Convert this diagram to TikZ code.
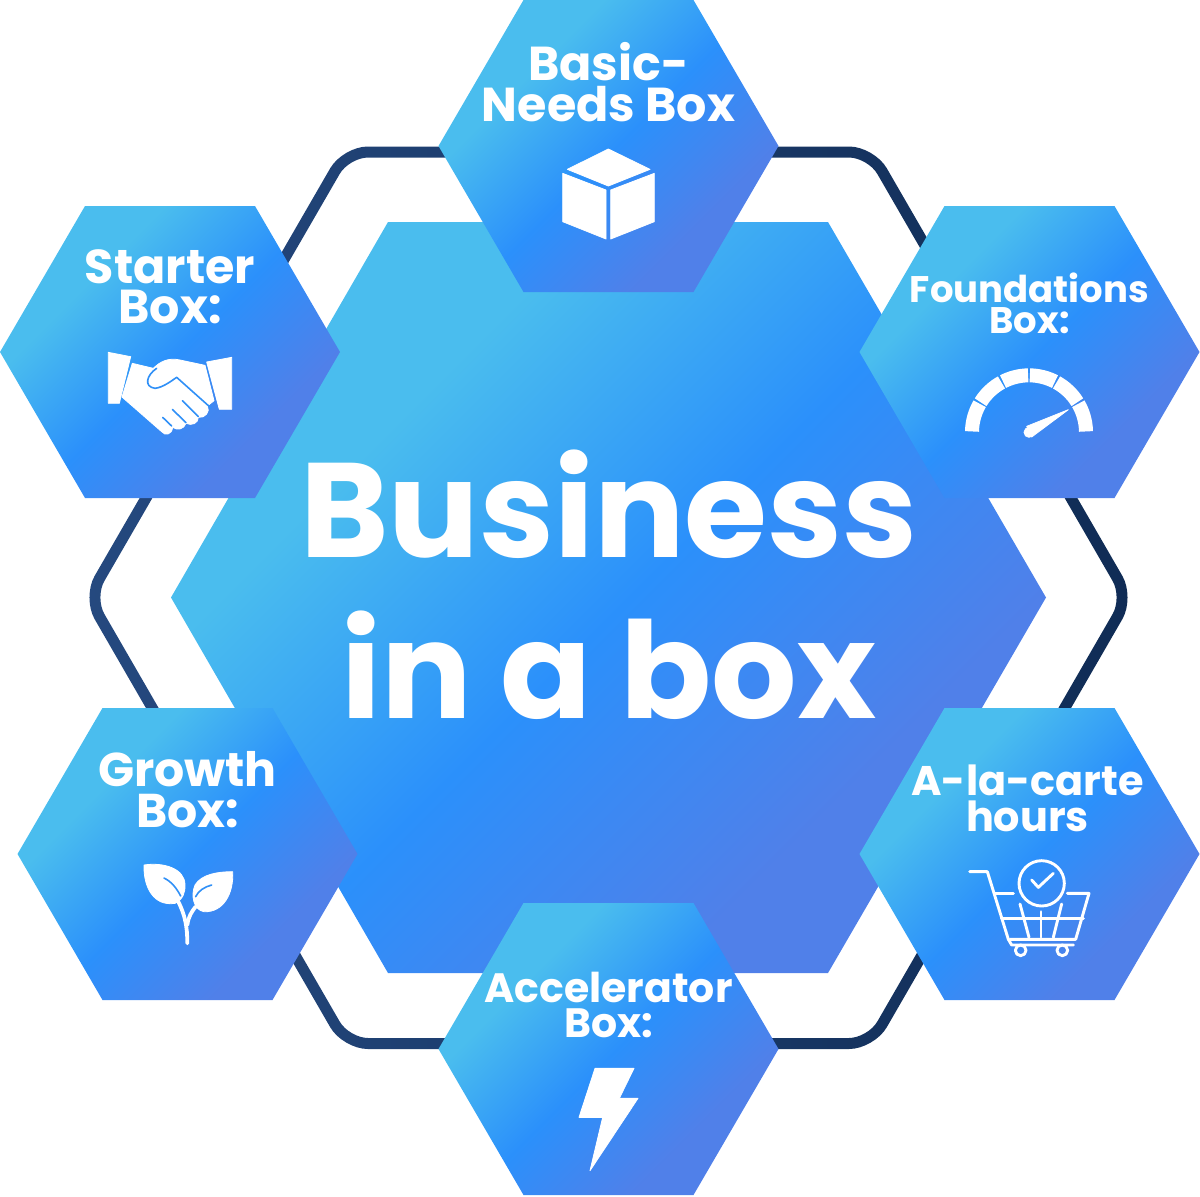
\documentclass[tikz,border=0pt]{standalone}
\usepackage{fontspec}
\newfontfamily\pop{Poppins Bold}
\definecolor{hexA}{HTML}{4ABDEE}
\definecolor{hexB}{HTML}{2B90FB}
\definecolor{hexC}{HTML}{5080E9}
\definecolor{ringL}{HTML}{25497F}
\definecolor{ringR}{HTML}{102C55}
\definecolor{gapblue}{HTML}{3090F7}
\pgfdeclareverticalshading{hexgrad}{100bp}{color(0bp)=(hexC); color(31bp)=(hexC); color(49bp)=(hexB); color(67bp)=(hexA); color(100bp)=(hexA)}
\tikzset{
  x=0.5pt,y=-0.5pt,
  hexfill/.style={shading=hexgrad,shading angle=45},
  hexlabel/.style={text=white,align=center,inner sep=0pt,font=\pop},
  iconfill/.style={fill=white,draw=white,line width=0.4pt,line join=round},
  iconline/.style={draw=white,line width=1.45pt,line join=round,line cap=round},
  gapline/.style={draw=gapblue,line width=0.8pt,line cap=round,line join=round},
  icongrid/.style={shift={#1},scale=1/3}
}
\newcommand{\smallhex}{\shade[hexfill] (-170,0) -- (-85,-146) -- (85,-146) -- (170,0) -- (85,146) -- (-85,146) -- cycle;}
\begin{document}
\begin{tikzpicture}
\useasboundingbox (0,0) rectangle (1200,1196);
% ring
\shade[even odd rule,left color=ringL,right color=ringR]
 [rounded corners=12.5pt] (608,146.5) -- (874.2,146.5) -- (1134.85,597.5) -- (874.2,1049) -- (342.8,1049) -- (82.15,597.5) -- (342.8,146.5) -- cycle
 [rounded corners=9.5pt] (608,157.5) -- (867.8,157.5) -- (1122.15,597.5) -- (867.8,1038) -- (349.2,1038) -- (94.85,597.5) -- (349.2,157.5) -- cycle;
% centre
\shade[hexfill] (171,597.5) -- (388,222) -- (828,222) -- (1046,597.5) -- (828,973) -- (388,973) -- cycle;
\node[hexlabel,font=\fontsize{67.2}{80.5}\selectfont\pop] (main) at (609,585) {Business\\in a box};

% Basic-needs
\begin{scope}[shift={(608.5,146)}]
\smallhex
\node[hexlabel,font=\fontsize{23.8}{20.5}\selectfont\pop] (basic) at (0,-64) {Basic-\\Needs Box};
\end{scope}
\begin{scope}[icongrid={(550,140)}]
\fill[iconfill] (175,27) -- (300,88) -- (175,138) -- (52,88) -- cycle;
\fill[iconfill] (38,100) -- (168,150) -- (168,297) -- (38,245) -- cycle;
\fill[iconfill] (182,150) -- (313,100) -- (313,245) -- (182,297) -- cycle;
\end{scope}

% Starter
\begin{scope}[shift={(170,352)}]
\smallhex
\node[hexlabel,font=\fontsize{23.8}{20}\selectfont\pop] (starter) at (0,-65) {Starter\\Box:};
\end{scope}
\begin{scope}[icongrid={(90,340)}]
\fill[iconfill] (55,37) -- (122,50) -- (88,190) -- (55,190) -- cycle;
\fill[iconfill] (350,66) -- (425,52) -- (425,208) -- (388,208) -- cycle;
\fill[iconfill] (127,70) -- (190,85) .. controls (210,65) and (235,52) .. (270,60) -- (345,76) -- (372,182) -- (352,198) .. controls (362,215) and (345,235) .. (325,232) .. controls (325,250) and (305,258) .. (288,250) .. controls (282,268) and (262,272) .. (248,262) .. controls (245,285) and (225,288) .. (215,275) -- (96,171) -- cycle;
\draw[gapline] (200,85) .. controls (170,105) and (160,140) .. (195,145) .. controls (220,142) and (245,122) .. (260,112) -- (362,203);
\draw[gapline] (218,232) -- (245,258);
\draw[gapline] (247,208) -- (288,248);
\draw[gapline] (277,182) -- (325,230);
\end{scope}

% Foundations
\begin{scope}[shift={(1029.5,352)}]
\smallhex
\node[hexlabel,font=\fontsize{18.5}{15.5}\selectfont\pop] (found) at (0,-49) {Foundations\\Box:};
\end{scope}
\begin{scope}[icongrid={(950,355)}]
\coordinate (gc) at (237,232);
\foreach \a/\b in {180/211,211/242,242/270,270/298,298/329,329/360}
  \draw[white,line width=7pt] ([shift={(\a+0.9:171)}]gc) arc[start angle=\a+0.9,end angle=\b-0.9,radius=171];
\fill[iconfill] (230,214) -- (355,164) -- (245,246) -- cycle;
\fill[iconfill] (237,232) circle (15);
\end{scope}

% Growth
\begin{scope}[shift={(187.5,854)}]
\smallhex
\node[hexlabel,font=\fontsize{23.7}{20.5}\selectfont\pop] (growth) at (0,-64) {Growth\\Box:};
\end{scope}
\begin{scope}[icongrid={(130,850)}]
\fill[iconfill] (42,45) .. controls (100,36) and (165,55) .. (165,105) .. controls (167,125) and (158,150) .. (135,160) .. controls (70,170) and (40,110) .. (42,45) -- cycle;
\fill[iconfill] (308,65) .. controls (312,130) and (280,188) .. (222,185) .. controls (190,180) and (182,135) .. (195,105) .. controls (215,72) and (265,65) .. (308,65) -- cycle;
\draw[gapline] (102,84) .. controls (125,95) and (140,115) .. (152,138);
\draw[gapline] (197,140) .. controls (205,122) and (225,110) .. (245,105);
\draw[iconline,line width=1.9pt] (172,280) .. controls (172,230) and (165,195) .. (145,155);
\draw[iconline,line width=1.9pt] (172,225) .. controls (175,200) and (185,185) .. (197,170);
\end{scope}

% A-la-carte
\begin{scope}[shift={(1029.5,854)}]
\smallhex
\node[hexlabel,font=\fontsize{20.7}{18}\selectfont\pop] (alacarte) at (-2,-56) {A-la-carte\\hours};
\end{scope}
\begin{scope}[icongrid={(955,850)}]
\draw[iconline] (44,65) -- (97,65) -- (160,268) -- (170,285) -- (355,285);
\draw[iconline] (118,130) -- (175,130);
\draw[iconline] (337,130) -- (402,130) -- (362,268) -- (165,268);
\draw[iconline] (140,205) -- (385,205);
\draw[iconline] (195,162) -- (222,262);
\draw[iconline] (258,185) -- (258,262);
\draw[iconline] (320,162) -- (295,262);
\draw[iconline] (197,301) circle (16);
\draw[iconline] (322,301) circle (16);
\draw[iconline] (260,100) circle (68);
\draw[iconline] (230,90) -- (250,112) -- (295,70);
\end{scope}

% Accelerator
\begin{scope}[shift={(608.5,1049)}]
\smallhex
\node[hexlabel,font=\fontsize{20.5}{17.5}\selectfont\pop] (accel) at (0,-44) {Accelerator\\Box:};
\end{scope}
\begin{scope}[icongrid={(560,1060)}]
\fill[iconfill] (105,25) -- (222,25) -- (178,115) -- (234,115) -- (90,332) -- (128,172) -- (57,172) -- cycle;
\end{scope}
\end{tikzpicture}
\end{document}
